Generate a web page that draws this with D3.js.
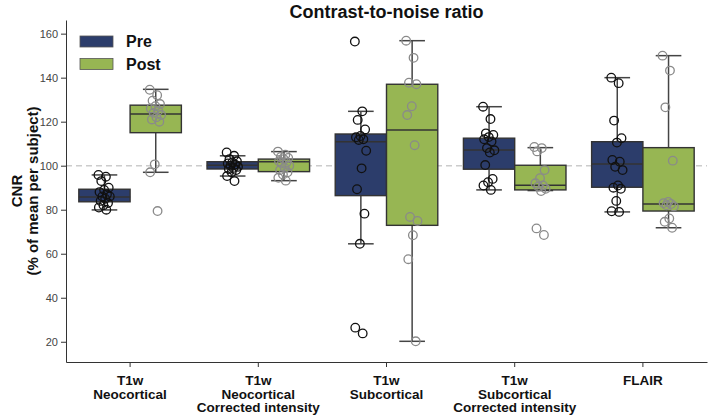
<!DOCTYPE html>
<html>
<head>
<meta charset="utf-8">
<script src="https://cdn.jsdelivr.net/npm/d3@7"></script>
<style>
  body { margin: 0; background: #fff; }
  svg { display: block; font-family: "Liberation Sans", Arial, Helvetica, sans-serif; }
</style>
</head>
<body>
<svg id="chart" width="708" height="416"></svg>
<script>
// ---- Data ----
const categories = [
  ["T1w", "Neocortical"],
  ["T1w", "Neocortical", "Corrected intensity"],
  ["T1w", "Subcortical"],
  ["T1w", "Subcortical", "Corrected intensity"],
  ["FLAIR"]
];
const groups = ["Pre", "Post"];
const yTicks = [20, 40, 60, 80, 100, 120, 140, 160];
const referenceLine = 100;

// box statistics: [q1, median, q3, whiskerLow, whiskerHigh] per category
const preBox = [
  [83.6, 85.8, 89.3, 79.9, 95.8],
  [98.5, 100.2, 101.8, 95.3, 104.5],
  [86.4, 110.9, 114.4, 64.5, 124.7],
  [98.4, 107.1, 112.5, 89.0, 126.8],
  [90.2, 100.8, 110.9, 79.0, 140.0]
];
const postBox = [
  [115.0, 123.5, 127.5, 97.0, 134.7],
  [97.3, 101.8, 103.0, 93.2, 106.4],
  [72.9, 116.2, 137.0, 20.2, 156.8],
  [89.0, 91.1, 100.2, 88.7, 108.2],
  [79.4, 82.6, 108.2, 71.8, 150.0]
];

// individual subject values
const prePoints = [
  [95.8, 95, 93, 90, 89, 88, 87, 86, 86, 85, 84, 83, 82, 81, 80],
  [106, 104.5, 103, 102, 101.5, 101, 100.5, 100, 99.5, 99, 98.5, 98, 97, 95.3, 93],
  [156.4, 124.7, 120.8, 116.5, 113.5, 112.9, 112, 111.7, 106.8, 98.8, 89.3, 78.2, 64.5, 26.4, 23.8],
  [126.8, 121.2, 114.7, 114, 113, 112, 111, 108, 107, 106, 100.3, 94, 92.5, 91, 89],
  [140, 137.5, 120.5, 112.5, 110.5, 102.6, 101.8, 99.5, 98, 91, 90, 89.5, 84, 79.3, 79]
];
const postPoints = [
  [134.5, 132, 129.5, 128, 127, 126, 125, 124, 123, 122, 121, 120, 100.6, 97, 79.4],
  [106.4, 105, 104, 103.5, 103, 102, 101.5, 101, 100, 99, 98, 97, 96, 94.5, 93.2],
  [156.8, 149, 137.7, 137, 127, 123, 109.3, 76.7, 74.9, 68.4, 57.5, 20.2],
  [108.5, 108, 106.5, 98, 94.3, 92, 91, 90.5, 89.5, 88.5, 71.5, 68.5],
  [150, 143.2, 126.5, 102.3, 83.5, 83, 82.6, 82, 81.5, 76, 74.5, 71.8]
];

// ---- Style ----
const colors = { Pre: "#2c3d6b", Post: "#97b653" };
const pointStroke = { Pre: "#111111", Post: "#8a8a8a" };
const edge = "#333333";

const svg = d3.select("#chart");
const margin = { left: 66, right: 1, top: 20, bottom: 54 };
const W = 708, H = 416;

const x = d3.scaleBand()
  .domain(d3.range(categories.length))
  .range([margin.left, W - margin.right])
  .paddingInner(0).paddingOuter(0);
const bw = x.bandwidth();
const boxW = bw * 0.4;

const y = d3.scaleLinear().domain([10.8, 166.2]).range([H - margin.bottom, margin.top]);

// reference dashed line
svg.append("line")
  .attr("x1", margin.left).attr("x2", W - margin.right)
  .attr("y1", y(referenceLine)).attr("y2", y(referenceLine))
  .attr("stroke", "#cccccc").attr("stroke-width", 1.6)
  .attr("stroke-dasharray", "6,4");

// boxes
const boxData = [];
categories.forEach((c, i) => {
  groups.forEach((g, j) => {
    const s = (g === "Pre" ? preBox : postBox)[i];
    const cx = x(i) + bw / 2;
    const left = g === "Pre" ? cx - boxW : cx;
    boxData.push({ i, g, left, mid: left + boxW / 2, q1: s[0], med: s[1], q3: s[2], lo: s[3], hi: s[4] });
  });
});

const boxG = svg.append("g").selectAll("g").data(boxData).join("g");
boxG.append("line")
  .attr("x1", d => d.mid).attr("x2", d => d.mid)
  .attr("y1", d => y(d.q3)).attr("y2", d => y(d.hi))
  .attr("stroke", "#444").attr("stroke-width", 1.5);
boxG.append("line")
  .attr("x1", d => d.mid).attr("x2", d => d.mid)
  .attr("y1", d => y(d.q1)).attr("y2", d => y(d.lo))
  .attr("stroke", "#444").attr("stroke-width", 1.5);
boxG.append("line")
  .attr("x1", d => d.mid - boxW / 4).attr("x2", d => d.mid + boxW / 4)
  .attr("y1", d => y(d.hi)).attr("y2", d => y(d.hi))
  .attr("stroke", "#444").attr("stroke-width", 1.5);
boxG.append("line")
  .attr("x1", d => d.mid - boxW / 4).attr("x2", d => d.mid + boxW / 4)
  .attr("y1", d => y(d.lo)).attr("y2", d => y(d.lo))
  .attr("stroke", "#444").attr("stroke-width", 1.5);
boxG.append("rect")
  .attr("x", d => d.left).attr("width", boxW)
  .attr("y", d => y(d.q3)).attr("height", d => y(d.q1) - y(d.q3))
  .attr("fill", d => colors[d.g])
  .attr("stroke", edge).attr("stroke-width", 1.4);
boxG.append("line")
  .attr("x1", d => d.left).attr("x2", d => d.left + boxW)
  .attr("y1", d => y(d.med)).attr("y2", d => y(d.med))
  .attr("stroke", edge).attr("stroke-width", 1.4);

// points (deterministic jitter)
const pts = [];
categories.forEach((c, i) => {
  groups.forEach(g => {
    const vals = (g === "Pre" ? prePoints : postPoints)[i];
    const cx = x(i) + bw / 2 + (g === "Pre" ? -boxW / 2 : boxW / 2);
    vals.forEach((v, k) => {
      const jit = (((k * 0.618034) % 1) - 0.5) * 12;
      pts.push({ g, cx: cx + jit, v });
    });
  });
});
svg.append("g").selectAll("circle").data(pts).join("circle")
  .attr("cx", d => d.cx).attr("cy", d => y(d.v)).attr("r", 4.3)
  .attr("fill", "none")
  .attr("stroke", d => pointStroke[d.g]).attr("stroke-width", 1.3);

// axes
const yAxis = svg.append("g")
  .attr("transform", `translate(${margin.left},0)`)
  .call(d3.axisLeft(y).tickValues(yTicks).tickSize(5).tickPadding(3).tickSizeOuter(0));
yAxis.select(".domain").attr("stroke", "#333");
yAxis.selectAll(".tick line").attr("stroke", "#333");
yAxis.selectAll(".tick text").attr("font-size", 11).attr("fill", "#444")
  .attr("font-family", "Liberation Sans, Arial, sans-serif");

const xAxis = svg.append("g")
  .attr("transform", `translate(0,${H - margin.bottom})`)
  .call(d3.axisBottom(x).tickSize(5).tickSizeOuter(0).tickFormat(""));
xAxis.select(".domain").attr("stroke", "#333");
xAxis.selectAll(".tick line").attr("stroke", "#333");

const xl = svg.append("g");
categories.forEach((c, i) => {
  const t = xl.append("text")
    .attr("x", x(i) + bw / 2).attr("y", 385)
    .attr("text-anchor", "middle")
    .attr("font-size", 13.5).attr("font-weight", "bold").attr("fill", "#111");
  c.forEach((line, k) => {
    t.append("tspan").attr("x", x(i) + bw / 2).attr("dy", k === 0 ? 0 : 13.5).text(line);
  });
});

// y label
const yl = svg.append("text")
  .attr("transform", `translate(22,${(margin.top + H - margin.bottom) / 2}) rotate(-90)`)
  .attr("text-anchor", "middle")
  .attr("font-size", 15).attr("font-weight", "bold").attr("fill", "#111");
yl.append("tspan").attr("x", 0).attr("dy", 0).text("CNR");
yl.append("tspan").attr("x", 0).attr("dy", 16).text("(% of mean per subject)");

// title
svg.append("text")
  .attr("x", (margin.left + W - margin.right) / 2).attr("y", 18)
  .attr("text-anchor", "middle")
  .attr("font-size", 18).attr("font-weight", "bold").attr("fill", "#111")
  .text("Contrast-to-noise ratio");

// legend
const lg = svg.append("g");
groups.forEach((g, k) => {
  const yy = 36 + k * 22.5;
  lg.append("rect").attr("x", 80).attr("y", yy).attr("width", 33).attr("height", 11)
    .attr("fill", colors[g]).attr("stroke", "#555").attr("stroke-width", 0.8);
  lg.append("text").attr("x", 126).attr("y", yy + 11)
    .attr("font-size", 16).attr("font-weight", "bold").attr("fill", "#111").text(g);
});
</script>
</body>
</html>
